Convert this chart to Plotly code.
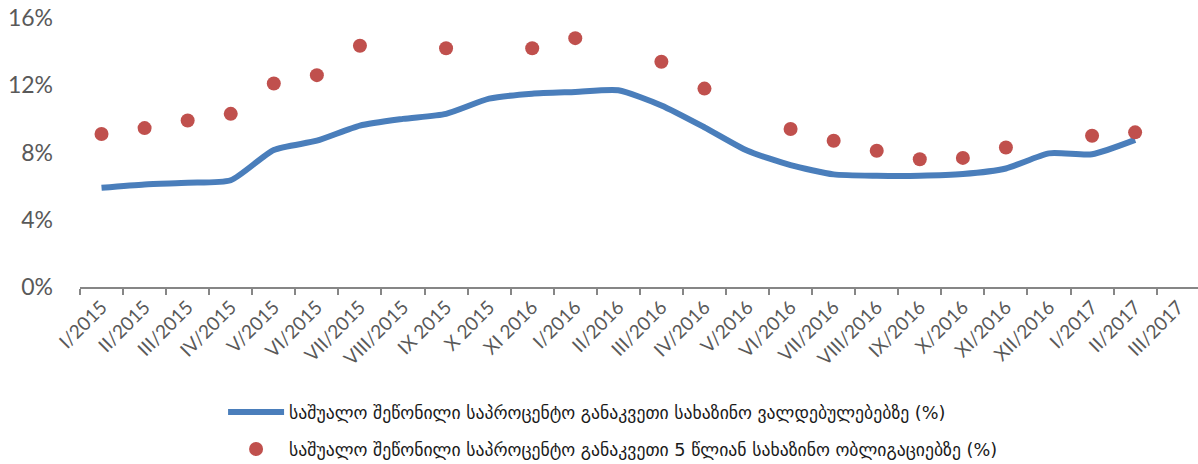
import plotly.graph_objects as go

# Monthly periods on the category axis
periods = [
    "I/2015", "II/2015", "III/2015", "IV/2015", "V/2015", "VI/2015",
    "VII/2015", "VIII/2015", "IX 2015", "X 2015", "XI 2016", "I/2016",
    "II/2016", "III/2016", "IV/2016", "V/2016", "VI/2016", "VII/2016",
    "VIII/2016", "IX/2016", "X/2016", "XI/2016", "XII/2016", "I/2017",
    "II/2017", "III/2017",
]

# Weighted average interest rate on treasury obligations (%)
obligations_rate = [
    5.9, 6.1, 6.2, 6.35, 8.15, 8.7, 9.6, 10.0, 10.3, 11.2, 11.5, 11.6,
    11.7, 10.8, 9.5, 8.1, 7.25, 6.7, 6.62, 6.62, 6.72, 7.05, 7.95, 7.9,
    8.75, None,
]

# Weighted average interest rate on 5-year treasury bonds (%)
bonds_5y_rate = [
    9.1, 9.45, 9.9, 10.3, 12.1, 12.6, 14.35, None, 14.2, None, 14.2, 14.8,
    None, 13.4, 11.8, None, 9.4, 8.7, 8.1, 7.6, 7.68, 8.3, None, 9.0,
    9.2, None,
]

y_ticks = [0, 4, 8, 12, 16]
y_tick_labels = ["0%", "4%", "8%", "12%", "16%"]

name_line = "საშუალო შეწონილი საპროცენტო განაკვეთი სახაზინო ვალდებულებებზე (%)"
name_dots = "საშუალო შეწონილი საპროცენტო განაკვეთი 5 წლიან სახაზინო ობლიგაციებზე (%)"

fig = go.Figure()

fig.add_trace(go.Scatter(
    x=periods, y=obligations_rate, mode="lines", name=name_line,
    line=dict(color="#4A7EBB", width=6, shape="spline", smoothing=0.6),
    legendgroup="a",
))

fig.add_trace(go.Scatter(
    x=periods, y=bonds_5y_rate, mode="markers", name=name_dots,
    marker=dict(color="#C0504D", size=14),
    legendgroup="b",
))

tick_font = dict(family="Lato, 'Open Sans', sans-serif", color="#595959")

fig.update_layout(
    width=1198, height=464,
    margin=dict(l=80, r=0, t=18, b=177, autoexpand=False),
    paper_bgcolor="white", plot_bgcolor="white",
    showlegend=True,
    legend=dict(
        xref="container", yref="container",
        x=0.1862, xanchor="left", y=0.151, yanchor="top",
        orientation="v", itemwidth=56, tracegroupgap=11,
        font=dict(family="'DejaVu Sans', sans-serif", size=17.7, color="#1a1a1a"),
        bgcolor="rgba(0,0,0,0)",
    ),
    xaxis=dict(
        type="category", range=[-0.5, 25.46],
        showline=True, linecolor="#868686", linewidth=1.5,
        ticks="outside", tickson="boundaries", ticklen=6,
        tickcolor="#868686", tickwidth=1.5,
        tickangle=-45, tickfont=dict(size=19, **tick_font),
        showgrid=False, zeroline=False,
    ),
    yaxis=dict(
        range=[0, 16], tickmode="array", tickvals=y_ticks, ticktext=y_tick_labels,
        showline=False, showgrid=False, zeroline=False,
        ticks="", tickfont=dict(size=23, **tick_font),
        ticklabelstandoff=26,
    ),
)

fig.write_html("out.html")
